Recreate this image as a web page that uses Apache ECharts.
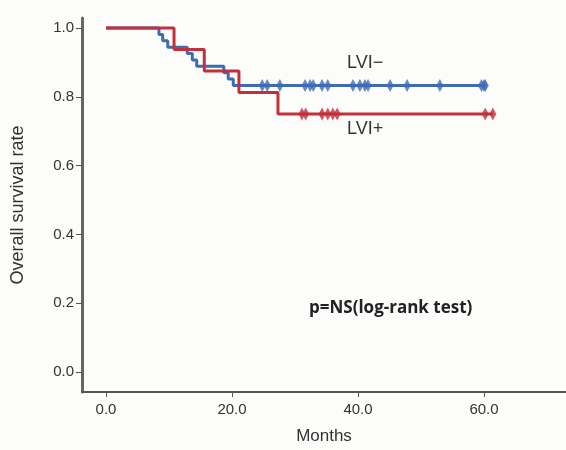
<!DOCTYPE html>
<html>
<head>
<meta charset="utf-8">
<script src="https://cdn.jsdelivr.net/npm/echarts@6/dist/echarts.min.js"></script>
<style>
  html, body { margin: 0; padding: 0; background: #fcfcfa; }
  #chart { width: 566px; height: 450px; }
</style>
</head>
<body>
<div id="chart"></div>
<script>
// LVI- group (blue): event times and survival after each event
const lviNegTimes = [0, 8.4, 9.0, 9.8, 12.9, 13.7, 14.4, 18.7, 19.4, 20.2, 60.2]
const lviNegSurv = [1, 0.981, 0.963, 0.944, 0.926, 0.907, 0.889, 0.870, 0.852, 0.833, 0.833]
const lviNegCensored = [24.8, 25.6, 27.6, 31.6, 32.4, 32.9, 34.3, 35.2, 39.2, 40.3, 41.1, 41.6, 45.1, 47.8, 53.0, 59.6, 60.0, 60.2]

// LVI+ group (red)
const lviPosTimes = [0, 10.8, 15.6, 21.1, 27.3, 61.4]
const lviPosSurv = [1, 0.9375, 0.875, 0.8125, 0.75, 0.75]
const lviPosCensored = [31.1, 31.7, 34.3, 35.2, 36.0, 36.7, 60.2, 61.4]

const xTicks = [0, 20, 40, 60]
const yTicks = [0, 0.2, 0.4, 0.6, 0.8, 1.0]

const blue = '#3d6cb4'
const red = '#c2303c'
const axisColor = '#555'
const textColor = '#333'

const chart = echarts.init(document.getElementById('chart'))

const curve = (times, surv) => times.map((t, i) => [t, surv[i]])
const censorPoints = (times, surv) => times.map(t => [t, surv[surv.length - 1]])

const option = {
  backgroundColor: '#fcfcfa',
  animation: false,
  grid: { left: 82, right: 0, top: 18, bottom: 58 },
  xAxis: {
    type: 'value',
    min: -3.81,
    max: 73.02,
    name: 'Months',
    nameLocation: 'middle',
    nameGap: 36,
    nameTextStyle: { fontFamily: 'Liberation Sans', fontSize: 17, color: textColor },
    axisLine: { show: true, onZero: false, lineStyle: { color: axisColor, width: 2 } },
    axisTick: { show: true, customValues: xTicks, length: 5, lineStyle: { color: axisColor } },
    axisLabel: {
      customValues: xTicks,
      formatter: v => v.toFixed(1),
      fontFamily: 'Liberation Sans',
      fontSize: 15,
      color: textColor,
      margin: 10,
    },
    splitLine: { show: false },
  },
  yAxis: {
    type: 'value',
    min: -0.0581,
    max: 1.029,
    name: 'Overall survival rate',
    nameLocation: 'middle',
    nameGap: 55,
    nameTextStyle: { fontFamily: 'Liberation Sans', fontSize: 18, color: textColor, padding: [0, 0, 0, 0] },
    axisLine: { show: true, onZero: false, lineStyle: { color: '#666', width: 3 } },
    axisTick: { show: true, customValues: yTicks, length: 6, lineStyle: { color: axisColor } },
    axisLabel: {
      customValues: yTicks,
      formatter: v => v.toFixed(1),
      fontFamily: 'Liberation Sans',
      fontSize: 15,
      color: textColor,
      margin: 8,
    },
    splitLine: { show: false },
  },
  series: [
    {
      name: 'LVI-',
      type: 'line',
      step: 'end',
      showSymbol: false,
      data: curve(lviNegTimes, lviNegSurv),
      lineStyle: { color: blue, width: 3 },
      z: 2,
    },
    {
      name: 'LVI- censored',
      type: 'scatter',
      symbol: 'diamond',
      symbolSize: [7, 13],
      data: censorPoints(lviNegCensored, lviNegSurv),
      itemStyle: { color: blue },
      z: 3,
    },
    {
      name: 'LVI+',
      type: 'line',
      step: 'end',
      showSymbol: false,
      data: curve(lviPosTimes, lviPosSurv),
      lineStyle: { color: red, width: 3 },
      z: 4,
    },
    {
      name: 'LVI+ censored',
      type: 'scatter',
      symbol: 'diamond',
      symbolSize: [7, 13],
      data: censorPoints(lviPosCensored, lviPosSurv),
      itemStyle: { color: red },
      z: 5,
    },
  ],
  graphic: [
    {
      type: 'text',
      left: 347,
      top: 54,
      style: { text: 'LVI−', font: '18px "Liberation Sans"', fill: textColor },
    },
    {
      type: 'text',
      left: 347,
      top: 120,
      style: { text: 'LVI+', font: '18px "Liberation Sans"', fill: textColor },
    },
    {
      type: 'text',
      left: 309,
      top: 300,
      style: { text: 'p=NS(log-rank test)', font: 'bold 17px "Open Sans"', fill: '#222' },
    },
  ],
}

chart.setOption(option)
</script>
</body>
</html>
